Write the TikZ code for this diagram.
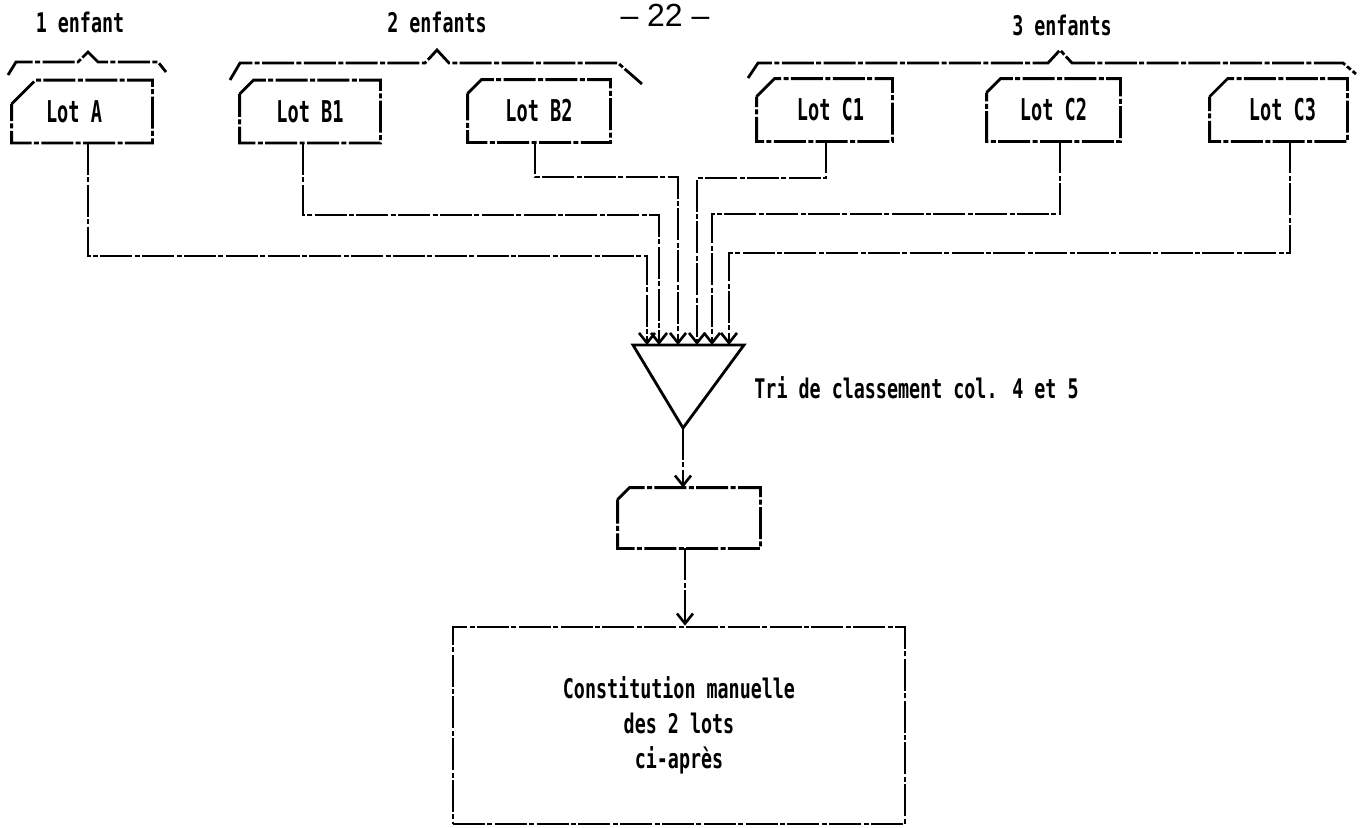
\documentclass[tikz,border=0pt]{standalone}
\usepackage{fontspec}
\usetikzlibrary{arrows.meta}
\newfontfamily\twfont[FakeStretch=0.68]{DejaVu Sans Mono}
\newfontfamily\lotfont[FakeStretch=0.62]{DejaVu Sans Mono}
\newfontfamily\pagefont{Liberation Sans}
\newcommand\cardoutline[2]{\draw[ln] ([yshift=-#2]#1.north west) -- ([xshift=#2]#1.north west) -- (#1.north east) -- (#1.south east) -- (#1.south west) -- cycle;}
\begin{document}
\begin{tikzpicture}[x=0.5pt,y=-0.5pt,
  ln/.style={line width=1.4pt, dash pattern=on 16pt off 1.2pt on 2.5pt off 1.2pt},
  solidln/.style={line width=1.4pt},
  arr/.style={-{Straight Barb[length=5pt,width=8pt,line width=1.3pt]}},
  card/.style={minimum width=70pt, minimum height=31pt, inner sep=0pt, font=\lotfont\bfseries\fontsize{15}{17}\selectfont},
  lbl/.style={inner sep=0pt, font=\twfont\bfseries\fontsize{13.5}{15}\selectfont}]
\useasboundingbox (0,0) rectangle (1364,827);

% page number
\node[inner sep=0pt, font=\pagefont\fontsize{16}{18}\selectfont] (pg) at (665,15) {– 22 –};

% group labels
\node[lbl] (g1) at (80,22) {1 enfant};
\node[lbl] (g2) at (437,22) {2 enfants};
\node[lbl] (g3) at (1062,25) {3 enfants};

% braces
\draw[ln] (8,75) -- (16,62) -- (78,62) -- (88,52) -- (98,62) -- (158,62) -- (166,72);
\draw[ln] (230,80) -- (240,63) -- (425,63) -- (437,50) -- (449,63) -- (618,63) -- (642,84);
\draw[ln] (748,78) -- (758,63) -- (1048,63) -- (1060,50) -- (1072,63) -- (1343,63) -- (1356,74);

% cards
\node[card] (A)  at (82,111.5)   {\hspace*{-8pt}Lot A};
\node[card] (B1) at (310,111.5)  {Lot B1};
\node[card,minimum width=71pt] (B2) at (539,111)   {Lot B2};
\node[card,minimum width=67.5pt] (C1) at (824.5,110) {\hspace*{6pt}Lot C1};
\node[card,minimum width=66.5pt] (C2) at (1053.5,110) {Lot C2};
\node[card,minimum width=68.5pt] (C3) at (1278.5,110) {\hspace*{4pt}Lot C3};
\cardoutline{A}{12pt}
\cardoutline{B1}{7pt}
\cardoutline{B2}{7pt}
\cardoutline{C1}{9pt}
\cardoutline{C2}{7pt}
\cardoutline{C3}{9pt}

% sort triangle
\coordinate (tl) at (633,345);
\coordinate (tr) at (744,345);
\coordinate (ta) at (683,428);
\draw[solidln] (tl) -- (tr) -- (ta) -- cycle;
\node[lbl, anchor=west] (tri) at (754,388) {Tri de classement col. 4 et 5};

\coordinate (e1) at (647,345);
\coordinate (e2) at (659,345);
\coordinate (e3) at (678,345);
\coordinate (e4) at (697,345);
\coordinate (e5) at (712,345);
\coordinate (e6) at (729,345);

\draw[ln,arr] ([xshift=3pt]A.south) |- (0,256 -| e1) -- (e1);
\draw[ln,arr] ([xshift=-3.5pt]B1.south) |- (0,215 -| e2) -- (e2);
\draw[ln,arr] ([xshift=-2pt]B2.south) |- (0,177 -| e3) -- (e3);
\draw[ln,arr] ([xshift=0.75pt]C1.south) |- (0,178 -| e4) -- (e4);
\draw[ln,arr] ([xshift=3.25pt]C2.south) |- (0,214 -| e5) -- (e5);
\draw[ln,arr] ([xshift=5.75pt]C3.south) |- (0,253 -| e6) -- (e6);

% output card
\node[card, minimum width=71pt, minimum height=30pt] (S) at (689,518) {};
\cardoutline{S}{6pt}
\draw[ln,arr] (ta) -- (ta |- S.north);

% manual box
\node[draw, ln, minimum width=226pt, minimum height=98.5pt, inner sep=0pt, align=center,
  font=\twfont\bfseries\fontsize{13.5}{17.5}\selectfont] (M) at (679,725.5)
  {Constitution manuelle\\des 2 lots\\ci-après};
\draw[ln,arr] ([xshift=-2pt]S.south) -- ([xshift=-2pt]S.south |- M.north);
\end{tikzpicture}
\end{document}
